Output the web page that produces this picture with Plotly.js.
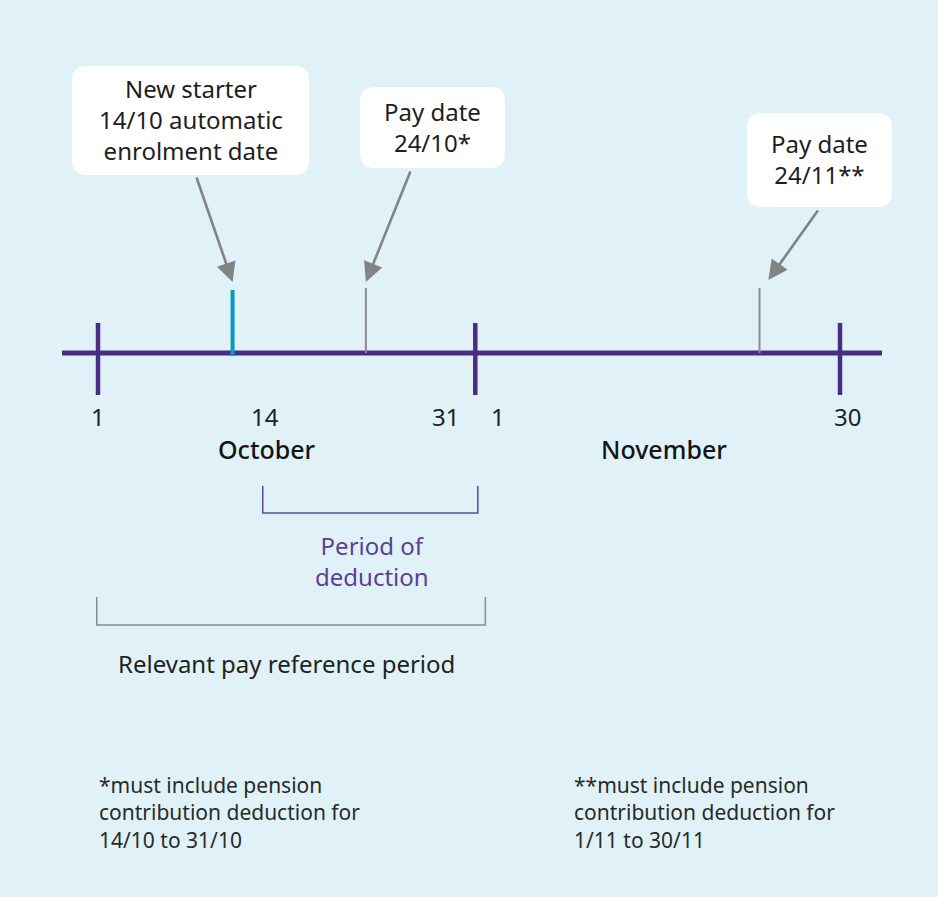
<!DOCTYPE html>
<html>
<head>
<meta charset="utf-8">
<script src="https://cdn.plot.ly/plotly-3.0.1.min.js"></script>
<style>
  body { margin: 0; background: #e0f2f7; }
  #chart { width: 938px; height: 897px; }
</style>
</head>
<body>
<div id="chart"></div>
<script>
// timeline units: 0 = 1 Oct, 30 = 31 Oct / 1 Nov, 59 = 30 Nov
var tickPos = [0, 30, 59]
var dayLabels = ['1', '14', '31', '1', '30']
var dayLabelPos = [0, 13.3, 27.6, 31.8, 59.6]
var months = ['October', 'November']
var monthPos = [13.4, 45.0]

var eventText = ['New starter<br>14/10 automatic<br>enrolment date', 'Pay date<br>24/10*', 'Pay date<br>24/11**']
var eventPos = [10.7, 21.3, 52.6]
var eventColor = ['#0b97c4', '#8c8c8c', '#8c8c8c']

var periodText = ['Period of<br>deduction', 'Relevant pay reference period']
var periodStart = [13.1, -0.1]
var periodEnd = [30.2, 30.8]

var notes = ['*must include pension<br>contribution deduction for<br>14/10 to 31/10',
             '**must include pension<br>contribution deduction for<br>1/11 to 30/11']

var W = 938, H = 897
var pxPerUnit = 742 / 59
var originPx = 98
function u(px) { return (px - originPx) / pxPerUnit }   // page px -> timeline units (layout only)
function P(px) { return +(px / W).toFixed(4) }          // page px -> paper fraction

var purple = '#4b2c85'
var font = '"Noto Sans", "Open Sans", sans-serif'

var traces = []

// main line
traces.push({
    x: [u(62), u(882)], y: [353, 353], mode: 'lines',
    line: {color: purple, width: 5}, hoverinfo: 'skip'
})

// big ticks
tickPos.forEach(function (t) {
    traces.push({
        x: [t, t], y: [323, 395], mode: 'lines',
        line: {color: purple, width: 4.5}, hoverinfo: 'skip'
    })
})

// event markers
var eventTop = [290, 288, 288]
var eventBottom = [356, 353, 353]
var eventWidth = [4, 2, 2]
eventPos.forEach(function (p, i) {
    traces.push({
        x: [p, p], y: [eventTop[i], eventBottom[i]], mode: 'lines',
        line: {color: eventColor[i], width: eventWidth[i]}, hoverinfo: 'skip'
    })
})

function roundBox(l, t, r, b, rad) {
    return 'M ' + P(l + rad) + ',' + t +
        ' L ' + P(r - rad) + ',' + t +
        ' Q ' + P(r) + ',' + t + ' ' + P(r) + ',' + (t + rad) +
        ' L ' + P(r) + ',' + (b - rad) +
        ' Q ' + P(r) + ',' + b + ' ' + P(r - rad) + ',' + b +
        ' L ' + P(l + rad) + ',' + b +
        ' Q ' + P(l) + ',' + b + ' ' + P(l) + ',' + (b - rad) +
        ' L ' + P(l) + ',' + (t + rad) +
        ' Q ' + P(l) + ',' + t + ' ' + P(l + rad) + ',' + t + ' Z'
}

// callout boxes (page px): left, top, right, bottom
var boxes = [[72, 66, 309, 175], [360, 87, 505, 168], [747, 113, 892, 207]]
var arrowTail = [[196, 176], [411, 170], [819, 209]]
var arrowTipY = [282, 282, 280]
var arrowTipShift = [0, 0, 0.7]

var shapes = []
var annotations = []

boxes.forEach(function (b, i) {
    shapes.push({
        type: 'path', xref: 'paper', yref: 'y',
        path: roundBox(b[0], b[1], b[2], b[3], 15),
        fillcolor: '#ffffff', line: {width: 0}
    })
    annotations.push({
        xref: 'paper', yref: 'y', x: P((b[0] + b[2]) / 2), y: (b[1] + b[3]) / 2 - 1,
        text: eventText[i], showarrow: false, align: 'center',
        xanchor: 'center', yanchor: 'middle',
        font: {family: font, size: 24, color: '#1e1e1e'}
    })
    annotations.push({
        xref: 'x', yref: 'y', axref: 'x', ayref: 'y',
        x: eventPos[i] + arrowTipShift[i], y: arrowTipY[i],
        ax: u(arrowTail[i][0]), ay: arrowTail[i][1],
        text: '', showarrow: true, arrowhead: 2, arrowsize: 1.5, arrowwidth: 2.6,
        arrowcolor: '#828385', standoff: 0, startstandoff: 0
    })
})

// day labels
dayLabels.forEach(function (d, i) {
    annotations.push({
        xref: 'x', yref: 'y', x: dayLabelPos[i], y: 416,
        text: d, showarrow: false, xanchor: 'center', yanchor: 'middle',
        font: {family: font, size: 24, color: '#222222'}
    })
})

months.forEach(function (m, i) {
    annotations.push({
        xref: 'x', yref: 'y', x: monthPos[i], y: 449,
        text: m, showarrow: false, xanchor: 'center', yanchor: 'middle',
        font: {family: font, size: 25, color: '#141414', weight: 500}
    })
})

// brackets
var bracketTop = [486, 597]
var bracketBottom = [513, 625]
var bracketColor = ['#5b4a9e', '#8c8c8c']
var periodTextY = [561, 663]
var periodColor = ['#5b3f98', '#222222']
var periodSize = [24, 24]
periodText.forEach(function (t, i) {
    shapes.push({
        type: 'path', xref: 'x', yref: 'y',
        path: 'M ' + periodStart[i] + ',' + bracketTop[i] + ' L ' + periodStart[i] + ',' + bracketBottom[i] +
              ' L ' + periodEnd[i] + ',' + bracketBottom[i] + ' L ' + periodEnd[i] + ',' + bracketTop[i],
        line: {color: bracketColor[i], width: 1.5}
    })
    annotations.push({
        xref: 'x', yref: 'y', x: i == 0 ? (periodStart[i] + periodEnd[i]) / 2 + 0.15 : u(286),
        y: periodTextY[i], text: t, showarrow: false, align: 'center',
        xanchor: 'center', yanchor: 'middle',
        font: {family: font, size: periodSize[i], color: periodColor[i]}
    })
})

// footnotes
var noteX = [97, 572]
notes.forEach(function (n, i) {
    annotations.push({
        xref: 'paper', yref: 'y', x: P(noteX[i]), y: 769,
        text: n, showarrow: false, align: 'left', xanchor: 'left', yanchor: 'top',
        font: {family: font, size: 21, color: '#2a2a2a'}
    })
})

var layout = {
    width: W, height: H,
    margin: {l: 0, r: 0, t: 0, b: 0},
    paper_bgcolor: '#e0f2f7', plot_bgcolor: '#e0f2f7',
    showlegend: false,
    xaxis: {range: [u(0), u(W)], visible: false, fixedrange: true},
    yaxis: {range: [H, 0], visible: false, fixedrange: true},
    shapes: shapes,
    annotations: annotations
}

Plotly.newPlot('chart', traces, layout, {displayModeBar: false, staticPlot: true})
</script>
</body>
</html>
